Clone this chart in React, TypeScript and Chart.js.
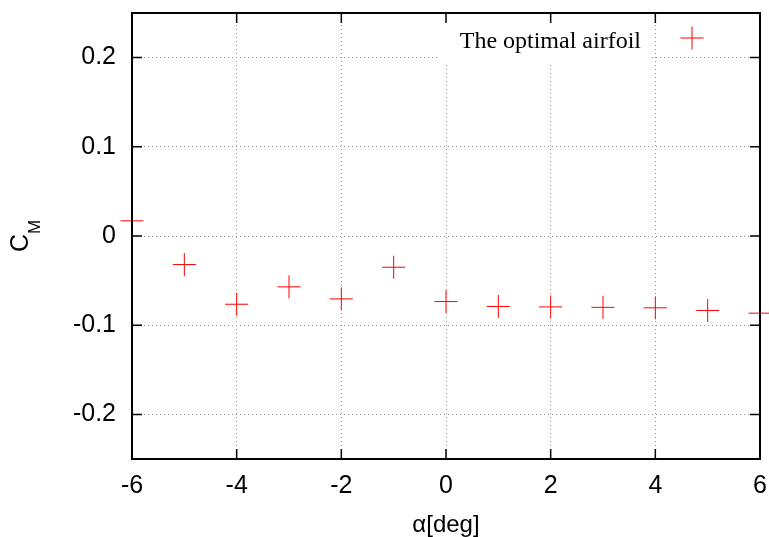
import { useEffect, useRef } from "react";
import { Chart, registerables } from "chart.js";

Chart.register(...registerables);

// ---- data ----
const alphaDeg = [-6, -5, -4, -3, -2, -1, 0, 1, 2, 3, 4, 5, 6];
const cmValues = [0.017, -0.032, -0.0765, -0.057, -0.0705, -0.035, -0.0735, -0.079, -0.0795, -0.08, -0.0805, -0.0835, -0.0865];
const xTickValues = [-6, -4, -2, 0, 2, 4, 6];
const yTickValues = [-0.2, -0.1, 0, 0.1, 0.2];
const seriesLabel = "The optimal airfoil";
const xTitle = "α[deg]";
const yTitleMain = "C";
const yTitleSub = "M";

const SANS = "'Liberation Sans', Arial, sans-serif";
const SERIF = "'Liberation Serif', 'Times New Roman', serif";
const RED = "#ff0000";

const framePlugin = {
  id: "gnuFrame",
  beforeDatasetsDraw(chart: any) {
    const { ctx, chartArea: a } = chart;
    ctx.save();
    ctx.fillStyle = "#ffffff";
    ctx.fillRect(a.right - 323, a.top + 1, 213, 48);
    ctx.restore();
  },
  afterDatasetsDraw(chart: any) {
    const { ctx, chartArea: a, scales } = chart;
    const xs = scales.x;
    const ys = scales.y;
    ctx.save();
    ctx.strokeStyle = "#000";
    ctx.lineWidth = 1.5;
    ctx.beginPath();
    xTickValues.forEach((v) => {
      const px = xs.getPixelForValue(v);
      ctx.moveTo(px, a.bottom);
      ctx.lineTo(px, a.bottom - 10);
      ctx.moveTo(px, a.top);
      ctx.lineTo(px, a.top + 10);
    });
    yTickValues.forEach((v) => {
      const py = ys.getPixelForValue(v);
      ctx.moveTo(a.left, py);
      ctx.lineTo(a.left + 10, py);
      ctx.moveTo(a.right, py);
      ctx.lineTo(a.right - 10, py);
    });
    ctx.stroke();
    ctx.lineWidth = 2;
    ctx.strokeRect(a.left, a.top, a.right - a.left, a.bottom - a.top);

    // legend
    ctx.fillStyle = "#000";
    ctx.font = `24px ${SERIF}`;
    ctx.textAlign = "right";
    ctx.textBaseline = "alphabetic";
    ctx.fillText(seriesLabel, a.right - 119, a.top + 35);
    const mx = a.right - 68;
    const my = a.top + 25;
    ctx.strokeStyle = RED;
    ctx.lineWidth = 1;
    ctx.beginPath();
    ctx.moveTo(mx - 11.5, my);
    ctx.lineTo(mx + 11.5, my);
    ctx.moveTo(mx, my - 11.5);
    ctx.lineTo(mx, my + 11.5);
    ctx.stroke();

    // axis titles
    ctx.fillStyle = "#000";
    ctx.textAlign = "center";
    ctx.font = `24px ${SANS}`;
    ctx.fillText(xTitle, (a.left + a.right) / 2, 532);

    ctx.save();
    const cy = (a.top + a.bottom) / 2;
    ctx.translate(28, cy + 16);
    ctx.rotate(-Math.PI / 2);
    ctx.textAlign = "left";
    ctx.font = `25px ${SANS}`;
    ctx.fillText(yTitleMain, 0, 0);
    const w = ctx.measureText(yTitleMain).width;
    ctx.font = `17px ${SANS}`;
    ctx.fillText(yTitleSub, w, 12);
    ctx.restore();
    ctx.restore();
  },
};

export default function App() {
  const ref = useRef<HTMLCanvasElement | null>(null);

  useEffect(() => {
    if (!ref.current) return;
    const chart = new Chart(ref.current, {
      type: "scatter",
      data: {
        datasets: [
          {
            label: seriesLabel,
            data: alphaDeg.map((x, i) => ({ x, y: cmValues[i] })),
            pointStyle: "cross",
            pointRadius: 11.5,
            pointBorderWidth: 1,
            borderColor: RED,
            backgroundColor: RED,
            clip: false,
          } as any,
        ],
      },
      options: {
        animation: false,
        responsive: true,
        maintainAspectRatio: false,
        layout: { autoPadding: false, padding: { top: 13, right: 9, left: 0, bottom: 0 } },
        plugins: {
          legend: { display: false },
          tooltip: { enabled: false },
        },
        scales: {
          x: {
            type: "linear",
            min: -6,
            max: 6,
            afterBuildTicks: (s: any) => {
              s.ticks = xTickValues.map((v) => ({ value: v }));
            },
            afterFit: (s: any) => {
              s.height = 78;
              s.paddingLeft = 0;
              s.paddingRight = 0;
            },
            grid: { color: "#999", lineWidth: 1, drawTicks: false },
            border: { display: false, dash: [1, 3] },
            ticks: {
              padding: 12,
              color: "#000",
              font: { family: SANS, size: 25 },
              maxRotation: 0,
              callback: (v: any) => String(v),
            },
          },
          y: {
            type: "linear",
            min: -0.25,
            max: 0.25,
            afterBuildTicks: (s: any) => {
              s.ticks = yTickValues.map((v) => ({ value: v }));
            },
            afterFit: (s: any) => {
              s.width = 132;
              s.paddingTop = 0;
              s.paddingBottom = 0;
            },
            grid: { color: "#999", lineWidth: 1, drawTicks: false },
            border: { display: false, dash: [1, 3] },
            ticks: {
              padding: 16,
              color: "#000",
              font: { family: SANS, size: 25 },
              callback: (v: any) => String(Math.round(Number(v) * 10) / 10),
            },
          },
        },
      },
      plugins: [framePlugin],
    });
    return () => chart.destroy();
  }, []);

  return (
    <div style={{ position: "fixed", left: 0, top: 0, width: 769, height: 537, background: "#fff" }}>
      <canvas ref={ref} />
    </div>
  );
}
